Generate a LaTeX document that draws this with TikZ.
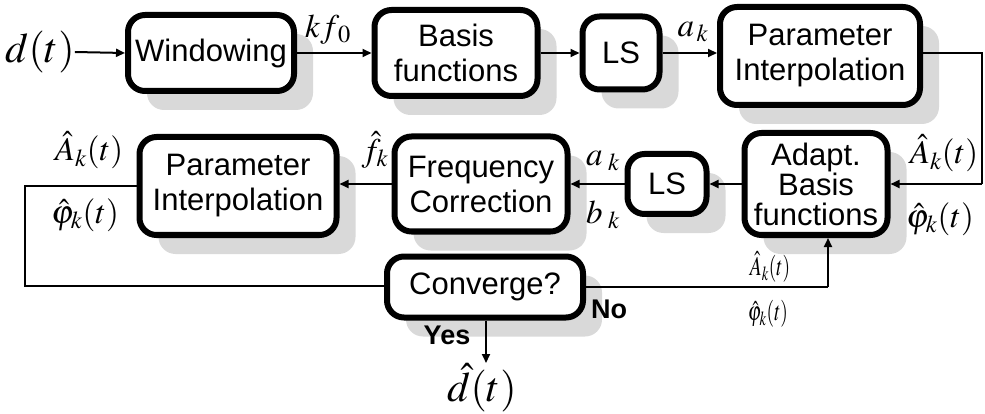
\documentclass[tikz,border=0pt]{standalone}
\usepackage{mathptmx}
\usepackage{fontspec}
\setmainfont{Liberation Sans}
\usetikzlibrary{arrows.meta,shadows}
\definecolor{shadowgray}{HTML}{D9D9D9}
\begin{document}
\begin{tikzpicture}[x=1pt,y=-1pt,
  blk/.style={draw, line width=6pt, rounded corners=17pt, fill=white, align=center,
    font=\fontsize{31}{35}\selectfont, inner sep=0pt,
    drop shadow={shadow xshift=19pt, shadow yshift=-19pt, fill=shadowgray, opacity=1}},
  conn/.style={line width=2pt},
  arr/.style={line width=2pt, -{Triangle[length=9pt,width=8pt]}},
  bigm/.style={inner sep=0pt, font=\fontsize{42}{46}\selectfont},
  midm/.style={inner sep=0pt, font=\fontsize{33}{36}\selectfont},
  smallm/.style={inner sep=0pt, font=\fontsize{27}{30}\selectfont},
  yn/.style={inner sep=0pt, font=\fontsize{27}{30}\selectfont\bfseries}]
\useasboundingbox (0,0) rectangle (985,414);
% top row
\node[bigm] (d) at (40,52) {$d(t)$};
\node[blk, minimum width=166pt, minimum height=76pt] (win) at (211,53) {Windowing};
\node[blk, minimum width=163pt, minimum height=86pt] (basis) at (456,53) {Basis\\functions};
\node[blk, minimum width=77pt, minimum height=73pt] (ls1) at (621,53) {LS};
\node[blk, minimum width=200pt, minimum height=98pt] (pi1) at (820,56) {Parameter\\Interpolation};
% second row
\node[blk, minimum width=197pt, minimum height=98pt] (pi2) at (238,186) {Parameter\\Interpolation};
\node[blk, minimum width=173pt, minimum height=95pt] (fc) at (481,184) {Frequency\\Correction};
\node[blk, minimum width=79pt, minimum height=60pt] (ls2) at (667,184) {LS};
\node[blk, minimum width=143pt, minimum height=102pt, font=\fontsize{31}{30}\selectfont] (adapt) at (816,184) {Adapt.\\Basis\\functions};
% converge
\node[blk, minimum width=196pt, minimum height=61pt] (conv) at (485,287) {Converge?};
% labels
\node[midm] (kf) at (328,30) {$kf_{\,0}$};
\node[midm] (ak1) at (693,32) {$a_{\,k}$};
\node[midm] (Ar) at (944,153) {$\hat{A}_k(t)$};
\node[midm] (phr) at (940,219) {$\hat{\varphi}_k(t)$};
\node[midm] (ak2) at (603,161) {$a_{\;k}$};
\node[midm] (bk2) at (603,215) {$b_{\;k}$};
\node[midm] (fk) at (375,150) {$\hat{f}_k$};
\node[midm] (Al) at (89,150) {$\hat{A}_k(t)$};
\node[midm] (phl) at (85,215) {$\hat{\varphi}_k(t)$};
\node[smallm] (As) at (770,267) {\scalebox{0.72}[1]{$\hat{A}_k(t)$}};
\node[smallm] (phs) at (768,314) {\scalebox{0.72}[1]{$\hat{\varphi}_k(t)$}};
\node[yn] (yes) at (447,335) {Yes};
\node[yn] (no) at (609,309) {No};
\node[bigm] (dh) at (482,388) {$\hat{d}(t)$};
% coordinates
\coordinate (r1) at (982,53);
\coordinate (r2) at (982,184);
\coordinate (l1) at (25,186);
\coordinate (l2) at (25,286);
\coordinate (c1) at (828,287);
\coordinate (c2) at (828,238);
\coordinate (dtop) at (486,363);
% connectors
\draw[arr] (d.east) -- (win.west);
\draw[arr] (win.east) -- (basis.west);
\draw[arr] (basis.east) -- (ls1.west);
\draw[arr] (ls1.east) -- (pi1.west |- ls1.east);
\draw[conn] (pi1.east |- r1) -- (r1) -- (r2);
\draw[arr] (r2) -- (adapt.east);
\draw[arr] (adapt.west) -- (ls2.east);
\draw[arr] (ls2.west) -- (fc.east);
\draw[arr] (fc.west) -- (pi2.east |- fc.west);
\draw[conn] (pi2.west |- l1) -- (l1) -- (l2) -- (conv.west |- l2);
\draw[conn] (conv.east) -- (c1);
\draw[arr] (c1) -- (c2);
\draw[arr] (conv.south -| dtop) -- (dtop);
\end{tikzpicture}
\end{document}
